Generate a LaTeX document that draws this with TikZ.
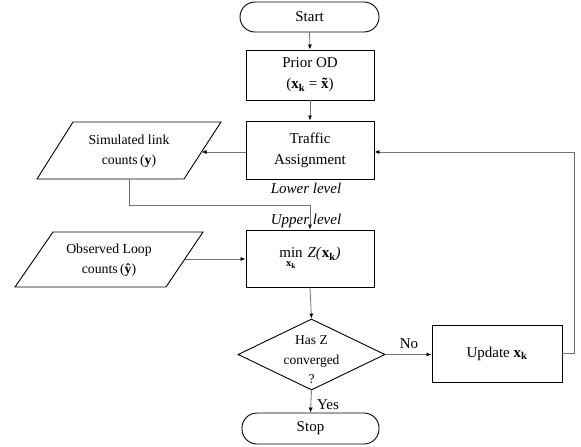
\documentclass[tikz,border=0pt]{standalone}
\usepackage{amsmath}
\usepackage{fontspec}
\setmainfont{Liberation Serif}
\usetikzlibrary{shapes.geometric,arrows.meta}
\newcommand{\tildex}{\ooalign{\textbf{x}\cr\hidewidth\textbf{\char"02DC}\hidewidth\cr}}
\tikzset{
  boxline/.style={draw=black, line width=0.9pt},
  termbox/.style={boxline, rectangle, rounded corners=15pt, minimum width=139pt, minimum height=30pt, inner sep=0pt, font=\fontsize{15}{20}\selectfont},
  procbox/.style={boxline, rectangle, minimum width=128pt, inner sep=0pt, align=center, font=\fontsize{15}{21}\selectfont},
  iotext/.style={align=center, inner sep=0pt, font=\fontsize{13.8}{20}\selectfont},
  decshape/.style={boxline, diamond, minimum width=147pt, minimum height=71pt, inner sep=0pt},
  dectext/.style={align=center, inner sep=0pt, font=\fontsize{13.5}{19.5}\selectfont},
  lbl/.style={inner sep=0pt, font=\fontsize{15}{18}\selectfont},
  conn/.style={draw=black!55, line width=0.8pt, -{Latex[length=5pt,width=4pt,color=black]}},
  plainconn/.style={draw=black!55, line width=0.8pt}
}
\begin{document}
\begin{tikzpicture}[x=1pt,y=-1pt]
\useasboundingbox (0,0) rectangle (581,447);
\node[termbox] (start) at (309.5,17) {Start};
\node[procbox, minimum height=50pt] (prior) at (310,75) {Prior OD\\(\textbf{x}\textsubscript{\textbf{k}} = \tildex)};
\node[procbox, minimum height=58pt] (traffic) at (310,150) {Traffic\\Assignment};
\node[lbl, font=\fontsize{15}{18}\selectfont\itshape] (lower) at (306,188) {Lower level};
\node[lbl, font=\fontsize{15}{18}\selectfont\itshape] (upper) at (306,221) {Upper level};
% simulated link counts parallelogram
\coordinate (simTL) at (73,122);
\coordinate (simTR) at (221,122);
\coordinate (simBR) at (184,179);
\coordinate (simBL) at (37,179);
\coordinate (simR) at (201.5,152);
\coordinate (simB) at (129,179);
\draw[boxline] (simTL) -- (simTR) -- (simBR) -- (simBL) -- cycle;
\node[iotext] (simt) at (129,151) {Simulated link\\counts\,(\textbf{y})};
% observed loop counts parallelogram
\coordinate (obsTL) at (53,232);
\coordinate (obsTR) at (203,232);
\coordinate (obsBR) at (166,287);
\coordinate (obsBL) at (15,287);
\coordinate (obsR) at (184.8,259);
\draw[boxline] (obsTL) -- (obsTR) -- (obsBR) -- (obsBL) -- cycle;
\node[iotext] (obst) at (109,260) {Observed Loop\\counts\,(\textbf{ŷ})};
\node[procbox, minimum height=57pt] (min) at (310,258.5) {$\mathop{\text{min}}\limits_{\text{\textbf{x}\textsubscript{\textbf{k}}}}\,\text{\textit{Z}\textit{(}\textbf{x}\textsubscript{\textbf{k}}\textit{)}}$};
\node[decshape] (dec) at (311.5,354.5) {};
\node[dectext] (dect) at (311.5,360) {Has Z\\converged\\?};
\node[procbox, minimum width=130pt, minimum height=57pt] (upd) at (497,353.5) {Update \textbf{x}\textsubscript{\textbf{k}}};
\node[termbox, minimum width=137pt, minimum height=31pt] (stop) at (310.5,428.5) {Stop};
\node[lbl] (no) at (409,344) {No};
\node[lbl] (yes) at (328,405) {Yes};
\coordinate (j1) at (129,205);
\coordinate (j2) at (310,205);
\coordinate (r1) at (574,353.5);
\coordinate (r2) at (574,152);
\draw[conn] (start.south) -- (prior.north);
\draw[conn] (prior.south) -- (traffic.north);
\draw[conn] (traffic.west |- simR) -- (simR);
\draw[plainconn] (simB) -- (j1) -- (j2);
\draw[conn] (j2) -- (min.north);
\draw[conn] (obsR) -- (min.west |- obsR);
\draw[conn] (min.south) -- (dec.north);
\draw[conn] (dec.east) -- (upd.west |- dec.east);
\draw[conn] (dec.south) -- (stop.north);
\draw[plainconn] (upd.east) -- (r1) -- (r2);
\draw[conn] (r2) -- (traffic.east |- r2);
\end{tikzpicture}
\end{document}
